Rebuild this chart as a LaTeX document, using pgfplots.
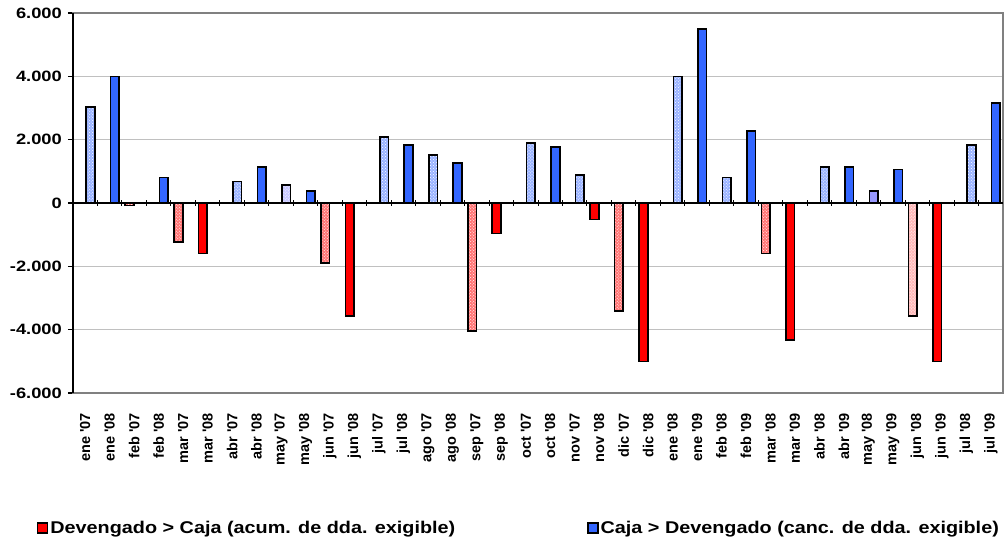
\documentclass[border=0pt]{standalone}
\usepackage{pgfplots}
\pgfplotsset{compat=1.18}
\usepackage{fontspec}
\setmainfont{Liberation Sans}
\newfontfamily\wide[FakeStretch=1.22]{Liberation Sans}
\newfontfamily\lgd[FakeStretch=1.165]{Liberation Sans}
\usetikzlibrary{patterns}
\definecolor{cblue}{HTML}{3366FF}
\definecolor{cred}{HTML}{FF0000}
\definecolor{clav}{HTML}{9999FF}
\definecolor{cgrid}{HTML}{C0C0C0}
\definecolor{cborder}{HTML}{808080}
\newcommand\q{\textquotesingle}
\begin{document}
\begin{tikzpicture}
\useasboundingbox (0,0) rectangle (1005bp,545bp);
\begin{axis}[
  at={(73bp,152bp)}, anchor=south west,
  scale only axis, width=930bp, height=380bp,
  xmin=-0.5, xmax=37.5, ymin=-6000, ymax=6000,
  axis line style={draw=cborder, line width=2bp},
  xtick={0,...,37},
  xticklabels={ene \q07,ene \q08,feb \q07,feb \q08,mar \q07,mar \q08,abr \q07,abr \q08,may \q07,may \q08,jun \q07,jun \q08,jul \q07,jul \q08,ago \q07,ago \q08,sep \q07,sep \q08,oct \q07,oct \q08,nov \q07,nov \q08,dic \q07,dic \q08,ene \q08,ene \q09,feb \q08,feb \q09,mar \q08,mar \q09,abr \q08,abr \q09,may \q08,may \q09,jun \q08,jun \q09,jul \q08,jul \q09},
  xtick style={draw=none},
  xticklabel style={rotate=90, anchor=east, font=\fontsize{14.5bp}{16bp}\selectfont\bfseries, inner sep=0pt, xshift=2bp},
  xticklabel shift=17bp,
  ytick={-6000,-4000,...,6000},
  yticklabels={-6.000,-4.000,-2.000,0,2.000,4.000,6.000},
  ytick pos=left, tick align=outside,
  ytick style={black, line width=1.2bp}, major tick length=5bp,
  yticklabel style={font=\wide\fontsize{15bp}{17bp}\selectfont\bfseries, inner sep=0pt},
  yticklabel shift=6bp,
  ymajorgrids, major grid style={cgrid, line width=1.3bp},
  clip=false,
  legend columns=2,
  legend style={at={(-0.0387,-0.355)}, anchor=west, draw=none, fill=none, inner sep=0pt, outer sep=0pt,
    font=\lgd\fontsize{17bp}{19bp}\selectfont\bfseries,
    /tikz/every even column/.append style={column sep=130bp}, cells={anchor=west}},
  legend image code/.code={\draw[#1, line width=1.4bp] (0bp,-5bp) rectangle (10bp,5bp);},
  every axis plot/.append style={line width=1.6bp},
]
% legend series first
\addplot[ybar, bar width=8.6bp, bar shift=-4.7bp, fill=cred, draw=black]
  coordinates {(5,-1590) (11,-3560) (17,-960) (21,-520) (23,-5000) (29,-4330) (35,-5000)};
\addlegendentry{Devengado > Caja (acum. de dda. exigible)}
\addplot[ybar, bar width=8.6bp, bar shift=5.2bp, fill=cblue, draw=black]
  coordinates {(1,4000) (3,800) (7,1130) (9,370) (13,1830) (15,1260) (19,1760) (25,5500) (27,2270) (31,1130) (33,1060) (37,3150)};
\addlegendentry{Caja > Devengado (canc. de dda. exigible)}
% patterned / other series
\addplot[ybar, forget plot, bar width=8.6bp, bar shift=5.2bp, fill=cblue!50!white, draw=black,
  postaction={pattern=crosshatch dots, pattern color=white}]
  coordinates {(0,3030) (6,680) (12,2080) (14,1510) (18,1890) (20,880) (24,4000) (26,800) (30,1130) (36,1830)};
\addplot[ybar, forget plot, bar width=8.6bp, bar shift=5.2bp, fill=clav!55!white, draw=black,
  postaction={pattern=crosshatch dots, pattern color=white}]
  coordinates {(8,560)};
\addplot[ybar, forget plot, bar width=8.6bp, bar shift=5.2bp, fill=clav, draw=black]
  coordinates {(32,370)};
\addplot[ybar, forget plot, bar width=8.6bp, bar shift=-4.7bp, fill=cred!55!white, draw=black,
  postaction={pattern=crosshatch dots, pattern color=white}]
  coordinates {(2,-80) (4,-1240) (10,-1900) (16,-4050) (22,-3420) (28,-1590)};
\addplot[ybar, forget plot, bar width=8.6bp, bar shift=-4.7bp, fill=cred!28!white, draw=black,
  postaction={pattern=crosshatch dots, pattern color=white}]
  coordinates {(34,-3560)};
% zero line and boundary ticks
\addplot[forget plot, sharp plot, black, line width=1.3bp] coordinates {(-0.5,0) (37.5,0)};
\addplot[forget plot, ycomb, black, line width=1bp] coordinates {(0.5,110) (1.5,110) (2.5,110) (3.5,110) (4.5,110) (5.5,110) (6.5,110) (7.5,110) (8.5,110) (9.5,110) (10.5,110) (11.5,110) (12.5,110) (13.5,110) (14.5,110) (15.5,110) (16.5,110) (17.5,110) (18.5,110) (19.5,110) (20.5,110) (21.5,110) (22.5,110) (23.5,110) (24.5,110) (25.5,110) (26.5,110) (27.5,110) (28.5,110) (29.5,110) (30.5,110) (31.5,110) (32.5,110) (33.5,110) (34.5,110) (35.5,110) (36.5,110)};
\addplot[forget plot, ycomb, black, line width=1bp] coordinates {(0.5,-110) (1.5,-110) (2.5,-110) (3.5,-110) (4.5,-110) (5.5,-110) (6.5,-110) (7.5,-110) (8.5,-110) (9.5,-110) (10.5,-110) (11.5,-110) (12.5,-110) (13.5,-110) (14.5,-110) (15.5,-110) (16.5,-110) (17.5,-110) (18.5,-110) (19.5,-110) (20.5,-110) (21.5,-110) (22.5,-110) (23.5,-110) (24.5,-110) (25.5,-110) (26.5,-110) (27.5,-110) (28.5,-110) (29.5,-110) (30.5,-110) (31.5,-110) (32.5,-110) (33.5,-110) (34.5,-110) (35.5,-110) (36.5,-110)};
% left axis line in black
\addplot[forget plot, sharp plot, black, line width=2.2bp] coordinates {(-0.5,-6000) (-0.5,6000)};
\end{axis}
\end{tikzpicture}
\end{document}
